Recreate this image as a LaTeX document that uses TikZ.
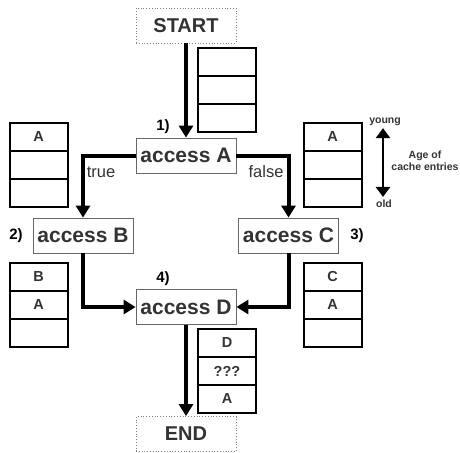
\documentclass[tikz,border=0pt]{standalone}
\usepackage{fontspec}
\setmainfont{Liberation Sans}
\usetikzlibrary{arrows.meta}
\definecolor{txt}{HTML}{333333}
\begin{document}
\begin{tikzpicture}[x=1pt,y=-1pt,
 access/.style={draw=gray!80!black, line width=0.8pt, minimum width=100pt, minimum height=35pt, inner sep=0pt, font=\fontsize{21}{21}\selectfont\bfseries, text=txt},
 term/.style={draw=gray, dotted, line width=0.8pt, minimum width=100pt, minimum height=35pt, inner sep=0pt, font=\fontsize{20}{20}\selectfont\bfseries, text=txt},
 cell/.style={draw=black, line width=2pt, minimum width=58pt, minimum height=28pt, inner sep=0pt, font=\fontsize{14.5}{14.5}\selectfont\bfseries, text=txt},
 flow/.style={line width=4pt, -{Triangle[length=12pt,width=14pt]}},
 num/.style={font=\fontsize{15}{15}\selectfont\bfseries, inner sep=0pt},
 lbl/.style={font=\fontsize{16.5}{16.5}\selectfont, text=txt, inner sep=0pt},
 small/.style={font=\fontsize{10.5}{12}\selectfont\bfseries, text=txt, align=center, inner sep=0pt}]
\useasboundingbox (0,0) rectangle (460,452);

% main nodes
\node[term] (start) at (186,25.5) {START};
\node[access] (accA) at (186,155.5) {access A};
\node[access] (accB) at (83,235.5) {access B};
\node[access] (accC) at (288.5,235.5) {access C};
\node[access] (accD) at (186,307) {access D};
\node[term] (end) at (186,434) {END};

% cache stacks
\node[cell] (s0a) at (227,62) {};
\node[cell] (s0b) at (227,90) {};
\node[cell] (s0c) at (227,118) {};

\node[cell] (s1a) at (38.5,137) {A};
\node[cell] (s1b) at (38.5,165) {};
\node[cell] (s1c) at (38.5,193) {};

\node[cell] (s2a) at (332.5,137) {A};
\node[cell] (s2b) at (332.5,165) {};
\node[cell] (s2c) at (332.5,193) {};

\node[cell] (s3a) at (38.5,277) {B};
\node[cell] (s3b) at (38.5,305) {A};
\node[cell] (s3c) at (38.5,333) {};

\node[cell] (s4a) at (332.5,277) {C};
\node[cell] (s4b) at (332.5,305) {A};
\node[cell] (s4c) at (332.5,333) {};

\node[cell] (s5a) at (227,343) {D};
\node[cell] (s5b) at (227,371) {???};
\node[cell] (s5c) at (227,399) {A};

% flow
\draw[flow] (start) -- (accA);
\draw[flow] (accA.west) -| (accB.north);
\draw[flow] (accA.east) -| (accC.north);
\draw[flow] (accB.south) |- (accD.west);
\draw[flow] (accC.south) |- (accD.east);
\draw[flow] (accD) -- (end);

% labels
\node[lbl] (ltrue) at (101,172) {true};
\node[lbl] (lfalse) at (266,172) {false};
\node[num] (n1) at (163,127) {1)};
\node[num] (n2) at (16,236) {2)};
\node[num] (n3) at (357,236) {3)};
\node[num] (n4) at (163,279) {4)};

% age legend
\node[small] (young) at (385,122) {young};
\node[small] (old) at (384,204) {old};
\draw[line width=2.5pt, {Triangle[length=10pt,width=14pt]}-{Triangle[length=10pt,width=14pt]}, shorten <=2pt, shorten >=3pt] (young.south -| 383,0) -- (old.north -| 383,0);
\node[small] (age) at (425,161) {Age of\\cache entries};
\end{tikzpicture}
\end{document}
